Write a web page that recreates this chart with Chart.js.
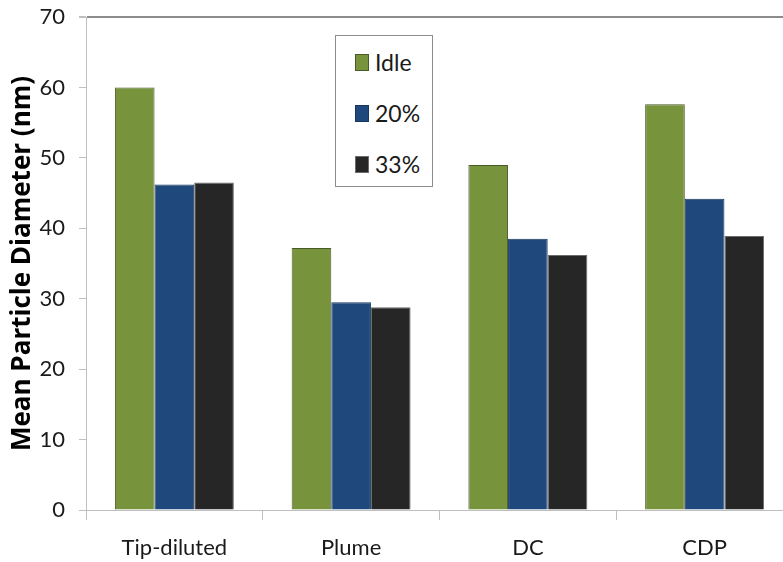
<!DOCTYPE html>
<html>
<head>
<meta charset="utf-8">
<script src="https://cdn.jsdelivr.net/npm/chart.js@4.4.0/dist/chart.umd.min.js"></script>
<style>
  html, body { margin: 0; padding: 0; background: #fff; overflow: hidden; }
  #wrap { position: relative; width: 800px; height: 562px; }
  #legend {
    position: absolute; left: 335px; top: 35px; width: 96px; height: 150px;
    border: 1px solid #8c8c8c; background: #fff;
    font-family: Lato, sans-serif;
    font-size: 23px; color: #1a1a1a;
  }
  #legend .item { position: absolute; left: 19px; height: 26px; display: flex; align-items: center; }
  #legend .swatch { width: 14px; height: 17px; margin-right: 6px; box-sizing: border-box; border: 1px solid #444; }
</style>
</head>
<body>
<div id="wrap">
  <canvas id="chart" width="800" height="562"></canvas>
  <div id="legend"></div>
</div>
<script>
// data
const categories = ['Tip-diluted', 'Plume', 'DC', 'CDP'];
const seriesNames = ['Idle', '20%', '33%'];
const idleValues = [60.0, 37.2, 49.0, 57.6];
const pct20Values = [46.2, 29.5, 38.5, 44.2];
const pct33Values = [46.5, 28.8, 36.2, 38.9];
const yMin = 0, yMax = 70, yStep = 10;

const fillColors = ['#77933c', '#1f497d', '#262626'];
const edgeColors = ['#4a5a2a', '#17375e', '#6b6b6b'];
const tickFont = { family: 'Lato, sans-serif', size: 22 };

document.addEventListener('DOMContentLoaded', () => {
    const seriesValues = [idleValues, pct20Values, pct33Values];

    const chart = new Chart(document.getElementById('chart'), {
        type: 'bar',
        data: {
            labels: categories,
            datasets: seriesNames.map((name, i) => ({
                label: name,
                data: seriesValues[i],
                backgroundColor: fillColors[i],
                borderColor: edgeColors[i],
                borderWidth: 1,
                categoryPercentage: 0.673,
                barPercentage: 1.0
            }))
        },
        options: {
            responsive: false,
            animation: false,
            layout: { padding: { top: 17, right: 7, bottom: 0, left: 0 } },
            plugins: { legend: { display: false }, tooltip: { enabled: false } },
            scales: {
                x: {
                    grid: { drawOnChartArea: false, color: '#bfbfbf', tickLength: 10, offset: true },
                    border: { color: '#bfbfbf' },
                    ticks: { font: tickFont, color: '#1a1a1a', padding: 15, maxRotation: 0 },
                    afterFit: (s) => { s.height = 52; }
                },
                y: {
                    min: yMin, max: yMax,
                    ticks: { stepSize: yStep, font: tickFont, color: '#1a1a1a', padding: 14 },
                    grid: {
                        color: (ctx) => (ctx.tick && ctx.tick.value === yMax) ? '#8c8c8c' : 'rgba(0,0,0,0)',
                        lineWidth: (ctx) => (ctx.tick && ctx.tick.value === yMax) ? 2 : 1,
                        tickColor: '#bfbfbf',
                        tickLength: 7
                    },
                    border: { color: '#bfbfbf' },
                    title: {
                        display: true,
                        text: 'Mean Particle Diameter (nm)',
                        font: { family: '"Open Sans", sans-serif', size: 26, weight: 'bold' },
                        color: '#000',
                        padding: { top: 7, bottom: 0 }
                    },
                    afterFit: (s) => {
                        s.width = 86;
                        s.paddingTop = 0;
                        s.paddingBottom = 0;
                    }
                }
            }
        }
    });

    // legend box inside the plot, built from the datasets
    const legend = document.getElementById('legend');
    chart.data.datasets.forEach((ds, i) => {
        const item = document.createElement('div');
        item.className = 'item';
        item.style.top = (13 + i * 51) + 'px';
        item.innerHTML = `<span class="swatch" style="background:${ds.backgroundColor};border-color:${ds.borderColor}"></span><span>${ds.label}</span>`;
        legend.appendChild(item);
    });
});
</script>
</body>
</html>
